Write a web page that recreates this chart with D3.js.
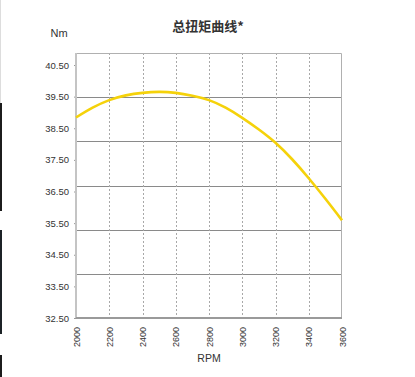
<!DOCTYPE html>
<html>
<head>
<meta charset="utf-8">
<script src="https://cdn.jsdelivr.net/npm/d3@7"></script>
<style>
  body { margin: 0; background: #fff; }
  text { font-family: "Liberation Sans", Arial, sans-serif; fill: #333; }
</style>
</head>
<body>
<div class="chart"></div>
<script>
var svgWidth = 415;
var svgHeight = 377;

// plot area
var margin = { top: 53, right: 73, bottom: 59, left: 76 };
var width = svgWidth - margin.left - margin.right;
var height = svgHeight - margin.top - margin.bottom;

// torque readings, every 100 rpm
var rpm = [2000, 2100, 2200, 2300, 2400, 2500, 2600, 2700, 2800, 2900, 3000, 3100, 3200, 3300, 3400, 3500, 3600];
var torque = [38.84, 39.15, 39.39, 39.54, 39.62, 39.65, 39.62, 39.53, 39.39, 39.15, 38.83, 38.46, 38.04, 37.52, 36.92, 36.27, 35.59];

var xTicks = [2000, 2200, 2400, 2600, 2800, 3000, 3200, 3400, 3600];
var yTicks = [32.5, 33.5, 34.5, 35.5, 36.5, 37.5, 38.5, 39.5, 40.5];
var yDomain = [32.5, 40.88];
var gridCount = 6; // horizontal grid lines don't follow the labels

var svg = d3.select(".chart")
  .append("svg")
  .attr("width", svgWidth)
  .attr("height", svgHeight);

// left edge strip seen in the screenshot
svg.append("rect").attr("x", 0).attr("y", 0).attr("width", 1).attr("height", 103).attr("fill", "#ddd");
svg.append("rect").attr("x", 0).attr("y", 103).attr("width", 2).attr("height", 108).attr("fill", "#1c1c1c");
svg.append("rect").attr("x", 0).attr("y", 230).attr("width", 2).attr("height", 104).attr("fill", "#1c2226");
svg.append("rect").attr("x", 0).attr("y", 355).attr("width", 2).attr("height", 22).attr("fill", "#1c1c1c");

var chart = svg.append("g")
  .attr("transform", "translate(" + margin.left + "," + margin.top + ")");

var x = d3.scaleLinear().domain([2000, 3600]).range([0, width]);
var y = d3.scaleLinear().domain(yDomain).range([height, 0]);

// horizontal grid
var step = (yDomain[1] - yDomain[0]) / gridCount;
var gridVals = d3.range(1, gridCount).map(function(i) { return yDomain[0] + i * step; });
chart.selectAll(".hgrid")
  .data(gridVals)
  .enter()
  .append("line")
  .attr("class", "hgrid")
  .attr("x1", 0).attr("x2", width)
  .attr("y1", function(d) { return Math.round(y(d)) + 0.5; })
  .attr("y2", function(d) { return Math.round(y(d)) + 0.5; })
  .attr("stroke", "#8a8a8a")
  .attr("stroke-width", 1);

// vertical dashed grid
chart.selectAll(".vgrid")
  .data(xTicks.slice(1, -1))
  .enter()
  .append("line")
  .attr("class", "vgrid")
  .attr("x1", function(d) { return Math.round(x(d)) + 0.5; })
  .attr("x2", function(d) { return Math.round(x(d)) + 0.5; })
  .attr("y1", 0).attr("y2", height)
  .attr("stroke", "#a8a8a8")
  .attr("stroke-dasharray", "2,2");

// frame: top and right
chart.append("path")
  .attr("d", "M0,0.5H" + (width - 0.5) + "V" + height)
  .attr("fill", "none")
  .attr("stroke", "#b0b0b0");

// y axis
var leftAxis = d3.axisLeft(y)
  .tickValues(yTicks)
  .tickSize(2)
  .tickPadding(5)
  .tickFormat(d3.format(".2f"));
var gy = chart.append("g").call(leftAxis);
gy.select(".domain").remove();
gy.selectAll(".tick line").attr("stroke", "#999");
gy.selectAll(".tick text")
  .style("font-family", "Liberation Sans, Arial, sans-serif")
  .style("font-size", "9.5px")
  .attr("fill", "#333");
chart.append("line")
  .attr("x1", 0).attr("x2", 0).attr("y1", 0).attr("y2", height)
  .attr("stroke", "#c4c4c4").attr("stroke-width", 2);

// x axis
var bottomAxis = d3.axisBottom(x)
  .tickValues(xTicks)
  .tickSize(0)
  .tickFormat(d3.format("d"));
var gx = chart.append("g")
  .attr("transform", "translate(0," + height + ")")
  .call(bottomAxis);
gx.select(".domain").remove();
gx.selectAll(".tick text")
  .attr("transform", "rotate(-90)")
  .attr("x", -9)
  .attr("y", 0)
  .attr("dy", "0.35em")
  .style("text-anchor", "end")
  .style("font-family", "Liberation Sans, Arial, sans-serif")
  .style("font-size", "9px")
  .attr("fill", "#333");
chart.append("line")
  .attr("x1", 0).attr("x2", width).attr("y1", height).attr("y2", height)
  .attr("stroke", "#9a9a9a").attr("stroke-width", 2);

// torque curve
var line = d3.line()
  .x(function(d, i) { return x(rpm[i]); })
  .y(function(d) { return y(d); })
  .curve(d3.curveNatural);
chart.append("path")
  .datum(torque)
  .attr("d", line)
  .attr("fill", "none")
  .attr("stroke", "#f5d20a")
  .attr("stroke-width", 2.6);

// titles
svg.append("text")
  .attr("x", 208)
  .attr("y", 31)
  .attr("text-anchor", "middle")
  .style("font-family", "Noto Sans CJK SC, sans-serif")
  .style("font-weight", "bold")
  .style("font-size", "13px")
  .attr("fill", "#222")
  .text("总扭矩曲线*");

svg.append("text")
  .attr("x", 59)
  .attr("y", 37)
  .attr("text-anchor", "middle")
  .style("font-size", "11px")
  .text("Nm");

svg.append("text")
  .attr("x", margin.left + width / 2)
  .attr("y", 362)
  .attr("text-anchor", "middle")
  .style("font-size", "10.5px")
  .text("RPM");
</script>
</body>
</html>
